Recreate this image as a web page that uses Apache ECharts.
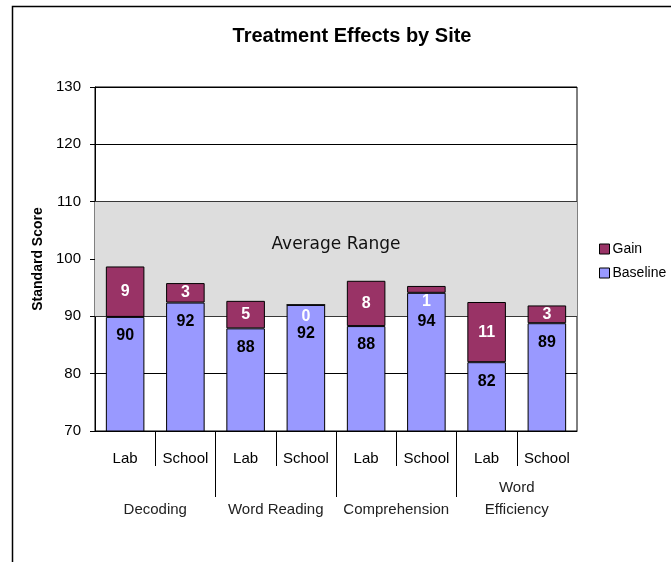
<!DOCTYPE html>
<html>
<head>
    <meta charset="utf-8">
    <script src="https://cdn.jsdelivr.net/npm/echarts@6/dist/echarts.min.js"></script>
</head>
<body>
    <style>
        html,
        body {
            width: 100%;
            height: 100%;
            margin: 0;
            background: #fff;
        }
    </style>
    <div id="main" style="width: 671px;height:562px;"></div>
    <script>
        // data
        var sites = ['Lab', 'School', 'Lab', 'School', 'Lab', 'School', 'Lab', 'School'];
        var measures = ['Decoding', 'Word Reading', 'Comprehension', 'Word\nEfficiency'];
        var baseline = [89.9, 92.4, 87.9, 92.0, 88.3, 94.1, 82.0, 88.8];
        var gain = [8.8, 3.4, 4.8, 0, 7.9, 1.2, 10.5, 3.1];
        var averageRange = [90, 110];
        var yMin = 70, yMax = 130, yStep = 10;

        var font = 'Liberation Sans, Arial, sans-serif';
        var chart = echarts.init(document.getElementById('main'));

        // small gain segments push both labels down a bit, as in the original
        var baselineData = baseline.map(function (v, i) {
            return gain[i] < 2 ? { value: v, label: { offset: [0, 10] } } : v;
        });
        var gainData = gain.map(function (v) {
            return v < 2 ? { value: v, label: { offset: [0, 12] } } : v;
        });

        var option = {
            backgroundColor: '#fff',
            animation: false,
            title: {
                text: 'Treatment Effects by Site',
                left: 347,
                top: 21,
                textAlign: 'center',
                textStyle: { fontFamily: font, fontSize: 20, fontWeight: 'bold', color: '#000' }
            },
            legend: {
                data: ['Gain', 'Baseline'],
                orient: 'vertical',
                left: 594,
                top: 237,
                itemWidth: 10,
                itemHeight: 10,
                itemGap: 10,
                icon: 'rect',
                itemStyle: { borderColor: '#000', borderWidth: 1 },
                textStyle: { fontFamily: font, fontSize: 14, color: '#000', padding: [0, 0, 0, -2] }
            },
            graphic: [{
                type: 'rect',
                left: 10,
                top: 4,
                shape: { width: 720, height: 620 },
                style: { fill: 'none', stroke: '#000', lineWidth: 1.5 },
                silent: true
            }],
            grid: {
                left: 95,
                right: 94,
                top: 87,
                bottom: 131,
                show: true,
                borderColor: '#000',
                borderWidth: 1
            },
            xAxis: [{
                type: 'category',
                data: sites,
                axisLine: { lineStyle: { color: '#000', width: 1 } },
                axisTick: { show: false },
                axisLabel: { fontFamily: font, fontSize: 15, color: '#000', margin: 20, interval: 0 }
            }, {
                type: 'category',
                data: measures,
                position: 'bottom',
                axisLine: { show: false },
                axisTick: { show: false },
                axisLabel: {
                    fontFamily: font, fontSize: 15, color: '#222', interval: 0,
                    verticalAlign: 'bottom', margin: 90, lineHeight: 22
                }
            }, {
                // short separators between sites
                type: 'value',
                min: 0,
                max: sites.length,
                position: 'bottom',
                axisLine: { show: false },
                axisLabel: { show: false },
                splitLine: { show: false },
                axisTick: {
                    show: true, inside: false, length: 35,
                    customValues: [1, 3, 5, 7],
                    lineStyle: { color: '#000', width: 1 }
                }
            }, {
                // long separators between measures
                type: 'value',
                min: 0,
                max: measures.length,
                position: 'bottom',
                axisLine: { show: false },
                axisLabel: { show: false },
                splitLine: { show: false },
                axisTick: {
                    show: true, inside: false, length: 66,
                    customValues: [1, 2, 3],
                    lineStyle: { color: '#000', width: 1 }
                }
            }],
            yAxis: {
                type: 'value',
                min: yMin,
                max: yMax,
                interval: yStep,
                name: 'Standard Score',
                nameLocation: 'middle',
                nameGap: 50,
                nameTextStyle: { fontFamily: font, fontSize: 14, fontWeight: 'bold', color: '#000' },
                axisLine: { show: true, lineStyle: { color: '#000', width: 1 } },
                axisTick: { show: true, length: 5, lineStyle: { color: '#000' } },
                axisLabel: { fontFamily: font, fontSize: 15, color: '#000', margin: 14 },
                splitLine: { show: true, lineStyle: { color: '#000', width: 1 } }
            },
            series: [{
                // shaded average range, under the grid lines
                type: 'line',
                data: [],
                z: -1,
                silent: true,
                markArea: {
                    silent: true,
                    itemStyle: { color: '#dddddd' },
                    label: {
                        show: true,
                        position: 'insideTop',
                        distance: 34,
                        fontFamily: 'DejaVu Sans, sans-serif',
                        fontSize: 17,
                        color: '#111'
                    },
                    data: [[{ yAxis: averageRange[0], name: 'Average Range' }, { yAxis: averageRange[1] }]]
                }
            }, {
                name: 'Baseline',
                type: 'bar',
                stack: 'score',
                data: baselineData,
                barCategoryGap: '36%',
                itemStyle: { color: '#9999ff', borderColor: '#000', borderWidth: 1 },
                label: {
                    show: true,
                    position: 'insideTop',
                    distance: 11,
                    fontFamily: font,
                    fontSize: 16,
                    fontWeight: 'bold',
                    color: '#000',
                    formatter: function (p) { return Math.round(p.value); }
                }
            }, {
                name: 'Gain',
                type: 'bar',
                stack: 'score',
                data: gainData,
                itemStyle: { color: '#993366', borderColor: '#000', borderWidth: 1 },
                label: {
                    show: true,
                    position: 'inside',
                    fontFamily: font,
                    fontSize: 16,
                    fontWeight: 'bold',
                    color: '#fff',
                    formatter: function (p) { return Math.round(p.value); }
                }
            }]
        };
        chart.setOption(option);
    </script>
</body>
</html>
